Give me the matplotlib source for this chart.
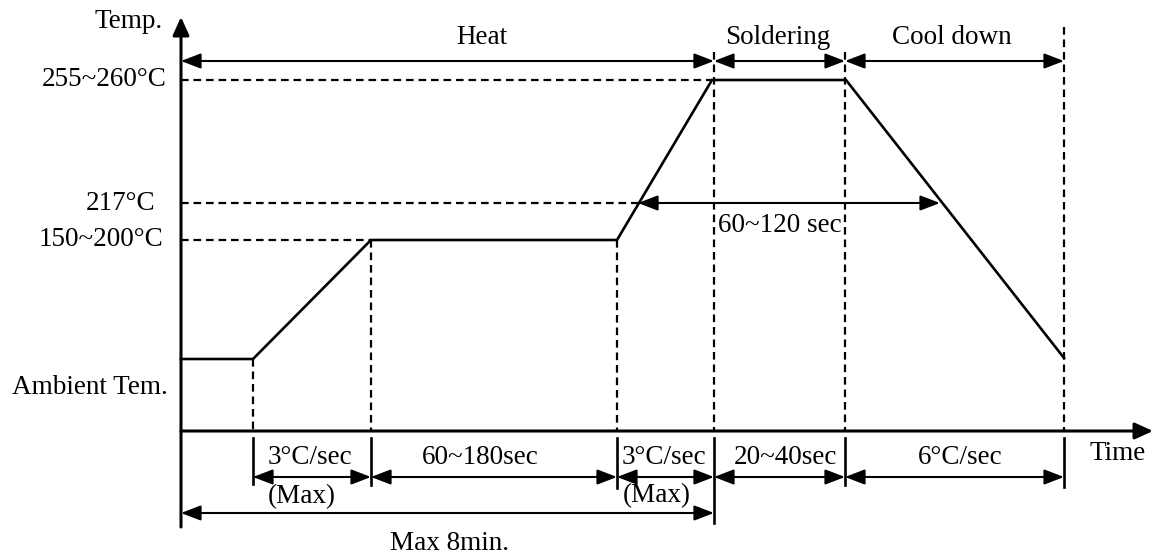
import matplotlib
matplotlib.use("Agg")
import matplotlib.pyplot as plt

plt.rcParams['font.family'] = ['Liberation Serif', 'DejaVu Serif']
plt.rcParams['lines.scale_dashes'] = False

# diagram drawn in a pixel-like coordinate space (x = time, y = temperature, y grows downward)
axis_x0 = 181
axis_y0 = 431

# reflow profile breakpoints
profile_time = [181, 253, 371, 617, 712, 846, 1064]
profile_temp = [359, 359, 240, 240, 80, 80, 358]

# temperature levels and their labels
level_temp = [80, 203, 240]
level_end = [712, 638, 371]
level_labels = ["255~260°C", "217°C", "150~200°C"]
level_label_x = [167, 155, 163]

# phase boundaries on the time axis
phase_time = [253, 371, 617, 714, 845, 1064]
phase_top = [359, 240, 240, 52, 52, 27]
tick_bottom = [484, 485, 488, 523, 485, 487]

# top phase spans
top_start = [181, 714, 845]
top_end = [714, 845, 1064]
top_labels = ["Heat", "Soldering", "Cool down"]
top_label_x = [482, 778, 952]

# bottom duration spans
dur_start = [253, 371, 617, 714, 845]
dur_end = [371, 617, 714, 845, 1064]
dur_labels = ["3°C/sec", "60~180sec", "3°C/sec", "20~40sec", "6°C/sec"]
dur_label_x = [310, 480, 664, 785, 960]

fig = plt.figure(figsize=(11.53, 5.56), dpi=100)
ax = fig.add_axes([0, 0, 1, 1])
ax.set_xlim(0, 1153)
ax.set_ylim(556, 0)
ax.axis('off')

FS = 19.5
dash = (0, (5.5, 3.5))


def arrow(x0, y0, x1, y1, style='<|-|>', lw=1.5, hl=12, hw=4.6):
    ax.annotate("", xy=(x1, y1), xytext=(x0, y0),
                arrowprops=dict(arrowstyle=f"{style},head_length={hl},head_width={hw}",
                                mutation_scale=1, lw=lw, color='black',
                                shrinkA=0, shrinkB=0))


# axes with arrowheads
arrow(axis_x0, 527, axis_x0, 17, style='-|>', lw=2.2, hl=11, hw=5)
arrow(axis_x0, axis_y0, 1153, axis_y0, style='-|>', lw=2.2, hl=11, hw=5)

# dashed reference lines
for t, xe in zip(level_temp, level_end):
    ax.plot([axis_x0, xe], [t, t], color='black', lw=1.6, linestyle=dash)
for x, top in zip(phase_time, phase_top):
    ax.plot([x, x], [top, axis_y0], color='black', lw=1.6, linestyle=dash)

# profile
ax.plot(profile_time, profile_temp, color='black', lw=1.9, solid_joinstyle='miter')

# tick marks below the time axis
for x, yb in zip(phase_time, tick_bottom):
    ax.plot([x, x], [438, yb], color='black', lw=1.9)

# top phase arrows and labels
for xs, xe, lab, lx in zip(top_start, top_end, top_labels, top_label_x):
    arrow(xs, 61, xe, 61)
    ax.text(lx, 37, lab, fontsize=FS, ha='center', va='center')

# 60~120 sec span above 217
arrow(638, 203, 940, 203)
ax.text(780, 225, "60~120 sec", fontsize=FS, ha='center', va='center')

# duration arrows under the time axis
for xs, xe, lab, lx in zip(dur_start, dur_end, dur_labels, dur_label_x):
    arrow(xs, 477, xe, 477)
    ax.text(lx, 457, lab, fontsize=FS, ha='center', va='center')
ax.text(302, 497, "(Max)", fontsize=FS, ha='center', va='center')
ax.text(657, 496, "(Max)", fontsize=FS, ha='center', va='center')

# total time span
arrow(axis_x0, 513, 714, 513)
ax.text(450, 543, "Max 8min.", fontsize=FS, ha='center', va='center')

# axis labels
ax.text(163, 22, "Temp.", fontsize=FS, ha='right', va='center')
for t, lab, lx in zip(level_temp, level_labels, level_label_x):
    ax.text(lx, t, lab, fontsize=FS, ha='right', va='center')
ax.text(168, 388, "Ambient Tem.", fontsize=FS, ha='right', va='center')
ax.text(1118, 453, "Time", fontsize=FS, ha='center', va='center')

fig.savefig("out.png", dpi=100)
